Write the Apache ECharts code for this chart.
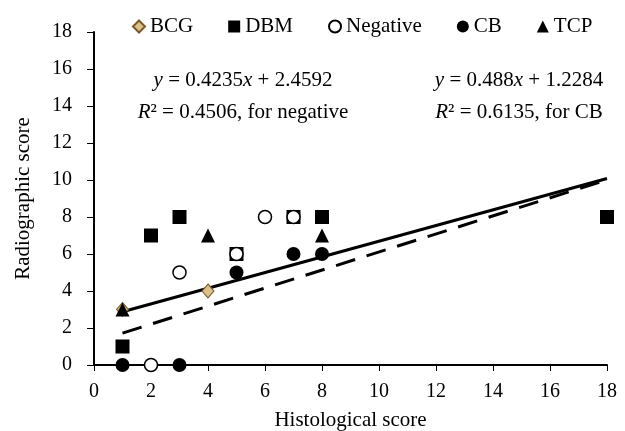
<!DOCTYPE html>
<html>
<head>
<meta charset="utf-8">
<script src="https://cdn.jsdelivr.net/npm/echarts@6/dist/echarts.min.js"></script>
<style>
  html, body { margin: 0; padding: 0; background: #fff; }
  #main { width: 625px; height: 431px; }
</style>
</head>
<body>
<div id="main"></div>
<script>
    var myChart = echarts.init(document.getElementById('main'));

    // points, [histological, radiographic]
    var bcg = [[1, 3], [4, 4]];
    var dbm = [[1, 1], [2, 7], [3, 8], [5, 6], [7, 8], [8, 8], [18, 8]];
    var negative = [[2, 0], [3, 5], [5, 6], [6, 8], [7, 8]];
    var cb = [[1, 0], [3, 0], [5, 5], [7, 6], [8, 6]];
    var tcp = [[1, 3], [4, 7], [8, 7]];

    // trend line ends
    var fitNegative = [[1, 2.88], [18, 10.08]];
    var fitCB = [[1, 1.72], [18, 10.01]];

    var serif = '"Liberation Serif", "DejaVu Serif", serif';

    var eqRich = {
        i: { fontStyle: 'italic', fontFamily: serif, fontSize: 21 }
    };

    function eqText(x, y, txt) {
        return {
            type: 'text',
            style: {
                x: x, y: y, text: txt,
                textAlign: 'center', textVerticalAlign: 'middle',
                font: '21px ' + serif, fill: '#000',
                rich: eqRich
            }
        };
    }

    option = {
    backgroundColor: '#fff',
    textStyle: { fontFamily: serif },
    grid: { left: 94, right: 18, top: 32, bottom: 66, outerBoundsMode: 'none' },
    legend: {
        left: 127,
        top: 11,
        itemGap: 35,
        itemWidth: 12,
        itemHeight: 12,
        textStyle: { fontFamily: serif, fontSize: 21, color: '#000' },
        data: [
            { name: 'BCG', icon: 'diamond' },
            { name: 'DBM', icon: 'rect' },
            { name: 'Negative', icon: 'circle' },
            { name: 'CB', icon: 'circle' },
            { name: 'TCP', icon: 'triangle' }
        ]
    },
    xAxis: {
        type: 'value',
        min: 0,
        max: 18,
        interval: 2,
        name: 'Histological score',
        nameLocation: 'middle',
        nameGap: 45,
        nameTextStyle: { fontFamily: serif, fontSize: 21, color: '#000' },
        axisLine: { lineStyle: { color: '#000', width: 2 } },
        axisTick: { show: true, length: 6, lineStyle: { color: '#000', width: 1 } },
        axisLabel: { margin: 17, fontFamily: serif, fontSize: 20, color: '#000' },
        splitLine: { show: false }
    },
    yAxis: {
        type: 'value',
        min: 0,
        max: 18,
        interval: 2,
        name: 'Radiographic score',
        nameLocation: 'middle',
        nameGap: 60,
        nameTextStyle: { fontFamily: serif, fontSize: 21, color: '#000' },
        axisLine: { show: true, lineStyle: { color: '#000', width: 2 } },
        axisTick: { show: true, length: 7, lineStyle: { color: '#000', width: 1 } },
        axisLabel: { margin: 22, fontFamily: serif, fontSize: 20, color: '#000' },
        splitLine: { show: false }
    },
    graphic: [
        eqText(243, 80, '{i|y} = 0.4235{i|x} + 2.4592'),
        eqText(243, 112, '{i|R}² = 0.4506, for negative'),
        eqText(519, 80, '{i|y} = 0.488{i|x} + 1.2284'),
        eqText(519, 112, '{i|R}² = 0.6135, for CB')
    ],
    series: [
        {
            name: 'fitNegative', type: 'line', data: fitNegative, symbol: 'none', z: 1,
            lineStyle: { color: '#000', width: 3 }, silent: true
        },
        {
            name: 'fitCB', type: 'line', data: fitCB, symbol: 'none', z: 1,
            lineStyle: { color: '#000', width: 3, type: [20, 12] }, silent: true
        },
        {
            name: 'BCG', type: 'scatter', data: bcg, symbol: 'diamond', symbolSize: [12, 14], z: 2,
            itemStyle: { color: '#dcc089', borderColor: '#7a5a2a', borderWidth: 1, opacity: 1 }
        },
        {
            name: 'DBM', type: 'scatter', data: dbm, symbol: 'rect', symbolSize: 14, z: 3,
            itemStyle: { color: '#000', opacity: 1 }
        },
        {
            name: 'Negative', type: 'scatter', data: negative, symbol: 'circle', symbolSize: 13, z: 4,
            itemStyle: { color: '#fff', borderColor: '#000', borderWidth: 1.5, opacity: 1 }
        },
        {
            name: 'CB', type: 'scatter', data: cb, symbol: 'circle', symbolSize: 14, z: 5,
            itemStyle: { color: '#000', opacity: 1 }
        },
        {
            name: 'TCP', type: 'scatter', data: tcp, symbol: 'triangle', symbolSize: 14, z: 6,
            itemStyle: { color: '#000', opacity: 1 }
        }
    ]
    };
    myChart.setOption(option);
</script>
</body>
</html>
